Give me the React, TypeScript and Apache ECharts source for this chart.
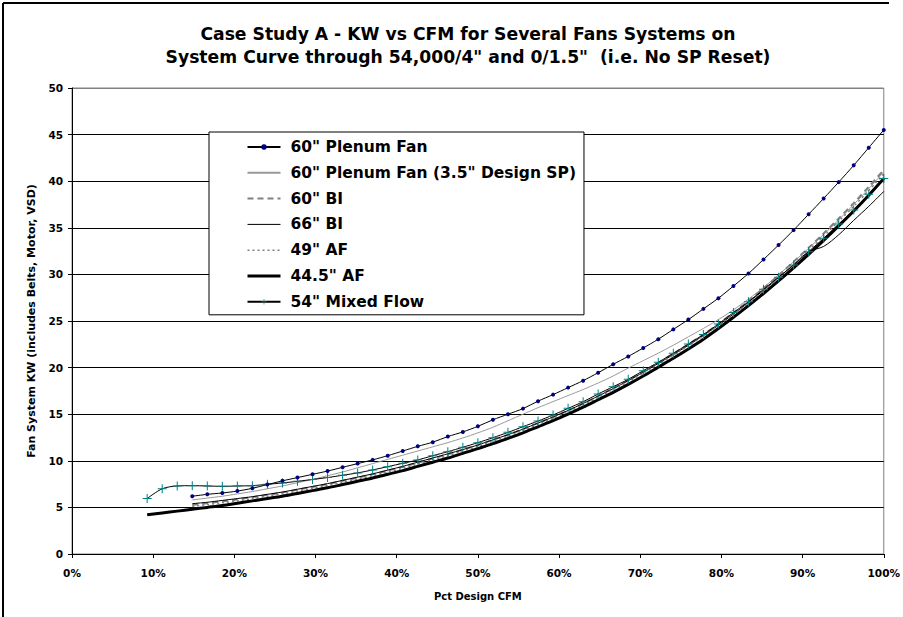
import React, { useEffect, useRef } from "react";
import * as echarts from "echarts";

const DESIGN_CFM = 54000;

// Airflow points (CFM), 1,000 CFM steps
const cfm = [
  5000, 6000, 7000, 8000, 9000, 10000, 11000, 12000, 13000, 14000,
  15000, 16000, 17000, 18000, 19000, 20000, 21000, 22000, 23000, 24000,
  25000, 26000, 27000, 28000, 29000, 30000, 31000, 32000, 33000, 34000,
  35000, 36000, 37000, 38000, 39000, 40000, 41000, 42000, 43000, 44000,
  45000, 46000, 47000, 48000, 49000, 50000, 51000, 52000, 53000, 54000,
];

const xTickLabels = ["0%", "10%", "20%", "30%", "40%", "50%", "60%", "70%", "80%", "90%", "100%"];

const seriesNames = [
  '60" Plenum Fan',
  '60" Plenum Fan (3.5" Design SP)',
  '60" BI',
  '66" BI',
  '49" AF',
  '44.5" AF',
  '54" Mixed Flow',
];

const plenum60 = [
  null, null, null, 6.2, 6.4, 6.55, 6.75, 7.05, 7.45, 7.85,
  8.2, 8.55, 8.9, 9.3, 9.7, 10.1, 10.55, 11.05, 11.55, 12.0,
  12.6, 13.1, 13.7, 14.4, 15.0, 15.6, 16.4, 17.1, 17.85, 18.6,
  19.45, 20.35, 21.2, 22.1, 23.05, 24.1, 25.15, 26.3, 27.45, 28.75,
  30.1, 31.6, 33.15, 34.75, 36.45, 38.15, 39.9, 41.7, 43.6, 45.5,
];

const plenum60Sp35 = [
  null, null, null, 5.8, 6.0, 6.2, 6.45, 6.7, 7.0, 7.3,
  7.65, 8.0, 8.4, 8.8, 9.25, 9.7, 10.15, 10.6, 11.05, 11.5,
  11.95, 12.45, 13.0, 13.6, 14.3, 15.0, 15.7, 16.35, 17.0, 17.65,
  18.35, 19.1, 19.95, 20.75, 21.55, 22.4, 23.3, 24.2, 25.15, 26.2,
  27.35, 28.6, 29.95, 31.35, 32.8, 34.3, 35.85, 37.5, 39.2, 41.0,
];

const bi60 = [
  null, null, null, 5.25, 5.45, 5.65, 5.85, 6.1, 6.35, 6.6,
  6.9, 7.2, 7.5, 7.85, 8.2, 8.55, 8.95, 9.35, 9.8, 10.25,
  10.7, 11.2, 11.7, 12.25, 12.8, 13.4, 14.05, 14.7, 15.4, 16.15,
  16.95, 17.8, 18.65, 19.55, 20.5, 21.5, 22.5, 23.55, 24.7, 25.9,
  27.15, 28.5, 29.9, 31.35, 32.85, 34.4, 36.0, 37.65, 39.4, 41.2,
];

const bi66 = [
  null, null, null, 5.4, 5.55, 5.75, 5.95, 6.15, 6.4, 6.65,
  6.95, 7.25, 7.55, 7.9, 8.25, 8.6, 9.0, 9.4, 9.85, 10.3,
  10.75, 11.2, 11.7, 12.25, 12.8, 13.4, 14.05, 14.7, 15.4, 16.15,
  16.95, 17.75, 18.6, 19.5, 20.45, 21.4, 22.4, 23.45, 24.55, 25.75,
  27.0, 28.3, 29.65, 31.05, 32.45, 33.0, 34.25, 35.8, 37.3, 38.9,
];

const af49 = [
  null, null, null, 5.1, 5.3, 5.5, 5.7, 5.95, 6.2, 6.45,
  6.75, 7.05, 7.35, 7.7, 8.05, 8.4, 8.8, 9.2, 9.65, 10.1,
  10.55, 11.05, 11.55, 12.1, 12.65, 13.25, 13.9, 14.55, 15.25, 16.0,
  16.8, 17.65, 18.5, 19.4, 20.35, 21.35, 22.35, 23.4, 24.5, 25.7,
  26.95, 28.25, 29.65, 31.1, 32.6, 34.1, 35.7, 37.3, 39.0, 40.8,
];

const af445 = [
  4.2, 4.4, 4.6, 4.8, 5.0, 5.2, 5.45, 5.7, 5.95, 6.2,
  6.5, 6.8, 7.1, 7.45, 7.8, 8.15, 8.55, 8.95, 9.4, 9.85,
  10.3, 10.8, 11.3, 11.85, 12.4, 13.0, 13.65, 14.3, 15.0, 15.75,
  16.55, 17.35, 18.2, 19.1, 20.05, 21.0, 22.0, 23.05, 24.2, 25.4,
  26.65, 27.95, 29.3, 30.7, 32.15, 33.65, 35.2, 36.8, 38.5, 40.3,
];

const mixedFlow54 = [
  5.95, 7.0, 7.3, 7.33, 7.3, 7.26, 7.3, 7.33, 7.48, 7.62,
  7.8, 8.0, 8.2, 8.45, 8.7, 9.02, 9.37, 9.73, 10.09, 10.55,
  10.98, 11.45, 11.95, 12.48, 13.05, 13.66, 14.27, 14.91, 15.63, 16.34,
  17.17, 17.95, 18.74, 19.67, 20.57, 21.53, 22.53, 23.55, 24.68, 25.9,
  27.07, 28.4, 29.7, 31.0, 32.44, 33.87, 35.4, 36.9, 38.6, 40.3,
];

const yTicks = [0, 5, 10, 15, 20, 25, 30, 35, 40, 45, 50];

const FONT = "'DejaVu Sans', Verdana, sans-serif";
const PLUS = "path://M4,0H5V4H9V5H5V9H4V5H0V4H4Z";

function pairs(values: (number | null)[]) {
  const out: [number, number][] = [];
  values.forEach((v, i) => {
    if (v !== null) out.push([cfm[i], v]);
  });
  return out;
}

export default function App() {
  const ref = useRef<HTMLDivElement>(null);

  useEffect(() => {
    document.body.style.margin = "0";
    const chart = echarts.init(ref.current!, null, { renderer: "svg" });

    const base = {
      type: "line",
      smooth: 0.3,
      showSymbol: false,
      symbol: "none",
      z: 3,
    };

    const hiddenMarker = { opacity: 0 };

    const option: any = {
      animation: false,
      backgroundColor: "#ffffff",
      title: {
        text: "Case Study A - KW vs CFM for Several Fans Systems on\nSystem Curve through 54,000/4\" and 0/1.5\"  (i.e. No SP Reset)",
        left: 468,
        top: 22,
        padding: 0,
        textAlign: "center",
        textStyle: {
          fontFamily: FONT,
          fontWeight: "bold",
          fontSize: 17.2,
          lineHeight: 23,
          color: "#000",
        },
      },
      legend: {
        orient: "vertical",
        left: 209,
        top: 132,
        backgroundColor: "#fff",
        borderColor: "#000",
        borderWidth: 1,
        padding: [7, 8, 5, 37],
        itemWidth: 33,
        itemHeight: 7,
        itemGap: 9.8,
        data: [
          { name: seriesNames[0] },
          { name: seriesNames[1], itemStyle: hiddenMarker },
          { name: seriesNames[2], itemStyle: hiddenMarker, lineStyle: { width: 2, type: [6, 4] } },
          { name: seriesNames[3], itemStyle: hiddenMarker, lineStyle: { width: 1 } },
          { name: seriesNames[4], itemStyle: hiddenMarker, lineStyle: { width: 1.5, type: [2, 3] } },
          { name: seriesNames[5], itemStyle: hiddenMarker, lineStyle: { width: 3 } },
          { name: seriesNames[6] },
        ],
        textStyle: {
          fontFamily: FONT,
          fontWeight: "bold",
          fontSize: 15.5,
          lineHeight: 14,
          color: "#000",
          padding: [0, 0, 0, 5],
        },
        z: 10,
      },
      grid: {
        left: 72,
        right: 19,
        top: 88,
        bottom: 63,
        show: true,
        borderColor: "#808080",
        borderWidth: 1,
      },
      xAxis: {
        type: "value",
        min: 0,
        max: DESIGN_CFM,
        interval: DESIGN_CFM / 10,
        name: "Pct Design CFM",
        nameLocation: "middle",
        nameGap: 37,
        nameTextStyle: { fontFamily: FONT, fontWeight: "bold", fontSize: 10, color: "#000" },
        axisLine: { show: true, lineStyle: { color: "#000", width: 1 } },
        axisTick: { show: true, length: 4, lineStyle: { color: "#000" } },
        axisLabel: {
          margin: 13,
          fontFamily: FONT,
          fontWeight: "bold",
          fontSize: 10.5,
          color: "#000",
          formatter: (v: number) => xTickLabels[Math.round((v / DESIGN_CFM) * 10)],
        },
        splitLine: { show: false },
      },
      yAxis: {
        type: "value",
        min: yTicks[0],
        max: yTicks[yTicks.length - 1],
        interval: 5,
        name: "Fan System KW (includes Belts, Motor, VSD)",
        nameLocation: "middle",
        nameGap: 33,
        nameTextStyle: { fontFamily: FONT, fontWeight: "bold", fontSize: 11, color: "#000" },
        axisLine: { show: true, lineStyle: { color: "#000", width: 1 } },
        axisTick: { show: true, length: 4, lineStyle: { color: "#000" } },
        axisLabel: {
          margin: 9,
          fontFamily: FONT,
          fontWeight: "bold",
          fontSize: 10.5,
          color: "#000",
        },
        splitLine: {
          show: true,
          lineStyle: {
            color: ["#000", "#000", "#000", "#000", "#000", "#000", "#000", "#000", "#000", "#000", "#808080"],
            width: 1,
          },
        },
      },
      graphic: [
        { type: "line", shape: { x1: 3, y1: 3, x2: 889, y2: 3 }, style: { stroke: "#000", lineWidth: 2 }, silent: true },
        { type: "line", shape: { x1: 3, y1: 3, x2: 3, y2: 617 }, style: { stroke: "#000", lineWidth: 2 }, silent: true },
      ],
      series: [
        {
          ...base,
          name: seriesNames[0],
          data: pairs(plenum60),
          showSymbol: true,
          symbol: "circle",
          symbolSize: 4,
          itemStyle: { color: "#000080" },
          lineStyle: { color: "#000", width: 1 },
          z: 6,
        },
        {
          ...base,
          name: seriesNames[1],
          data: pairs(plenum60Sp35),
          itemStyle: { color: "#999999" },
          lineStyle: { color: "#999999", width: 1 },
        },
        {
          ...base,
          name: seriesNames[2],
          data: pairs(bi60),
          itemStyle: { color: "#808080" },
          lineStyle: { color: "#808080", width: 2, type: [6, 4] },
        },
        {
          ...base,
          name: seriesNames[3],
          data: pairs(bi66),
          itemStyle: { color: "#000" },
          lineStyle: { color: "#000", width: 1 },
        },
        {
          ...base,
          name: seriesNames[4],
          data: pairs(af49),
          itemStyle: { color: "#808080" },
          lineStyle: { color: "#808080", width: 1.5, type: [2, 3] },
        },
        {
          ...base,
          name: seriesNames[5],
          data: pairs(af445),
          itemStyle: { color: "#000" },
          lineStyle: { color: "#000", width: 3 },
        },
        {
          ...base,
          name: seriesNames[6],
          data: pairs(mixedFlow54),
          showSymbol: true,
          symbol: PLUS,
          symbolSize: 9,
          itemStyle: { color: "#008080" },
          lineStyle: { color: "#000", width: 1 },
          z: 5,
        },
      ],
    };

    chart.setOption(option);
    return () => chart.dispose();
  }, []);

  return <div ref={ref} style={{ width: 903, height: 617 }} />;
}
